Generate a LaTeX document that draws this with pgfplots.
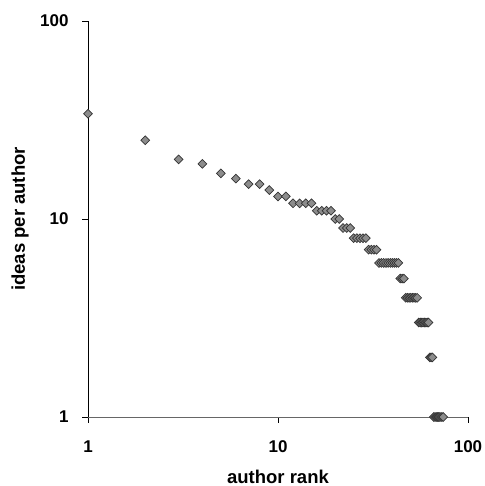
\documentclass[border=0pt]{standalone}
\usepackage{pgfplots}
\pgfplotsset{compat=1.18}
\usepackage{fontspec}
\setmainfont{Liberation Sans}

\pgfplotstableread{
rank ideas
1 34
2 25
3 20
4 19
5 17
6 16
7 15
8 15
9 14
10 13
11 13
12 12
13 12
14 12
15 12
16 11
17 11
18 11
19 11
20 10
21 10
22 9
23 9
24 9
25 8
26 8
27 8
28 8
29 8
30 7
31 7
32 7
33 7
34 6
35 6
36 6
37 6
38 6
39 6
40 6
41 6
42 6
43 6
44 5
45 5
46 5
47 4
48 4
49 4
50 4
51 4
52 4
53 4
54 4
55 3
56 3
57 3
58 3
59 3
60 3
61 3
62 3
63 2
64 2
65 2
66 1
67 1
68 1
69 1
70 1
71 1
72 1
73 1
74 1
}\ranks

\begin{document}
\begin{tikzpicture}
\begin{loglogaxis}[
  scale only axis, width=380pt, height=396pt,
  xmin=1, xmax=100, ymin=1, ymax=100,
  axis x line=bottom, axis y line=left,
  x axis line style={-, gray!80!black, line width=0.9pt},
  y axis line style={-, black, line width=0.9pt},
  xtick={1,10,100}, xticklabels={1,10,100},
  ytick={1,10,100}, yticklabels={1,10,100},
  xminorticks=false, yminorticks=false,
  tick align=outside, major tick length=6pt,
  tick style={black, line width=0.8pt},
  /pgf/number format/assume math mode=true,
  tick label style={font=\bfseries\fontsize{17}{17}\selectfont},
  xticklabel style={yshift=-14pt},
  yticklabel style={xshift=-10pt},
  every axis x label/.style={at={(axis description cs:0.5,0)}, yshift=-66pt, anchor=base},
  every axis y label/.style={at={(axis description cs:0,0.5)}, xshift=-68pt, rotate=90, anchor=center},
  label style={font=\bfseries\fontsize{18.5}{18.5}\selectfont},
  xlabel={author rank}, ylabel={ideas per author},
  clip=false,
]
\addplot[only marks, mark=square*, mark size=3.1pt,
  mark options={rotate=45, fill=gray!90!white, draw=black!80, line width=0.7pt}]
  table[x=rank, y=ideas] {\ranks};
\end{loglogaxis}
\pgfresetboundingbox
\useasboundingbox (-88pt,-69pt) rectangle (396pt,417pt);
\end{tikzpicture}
\end{document}
